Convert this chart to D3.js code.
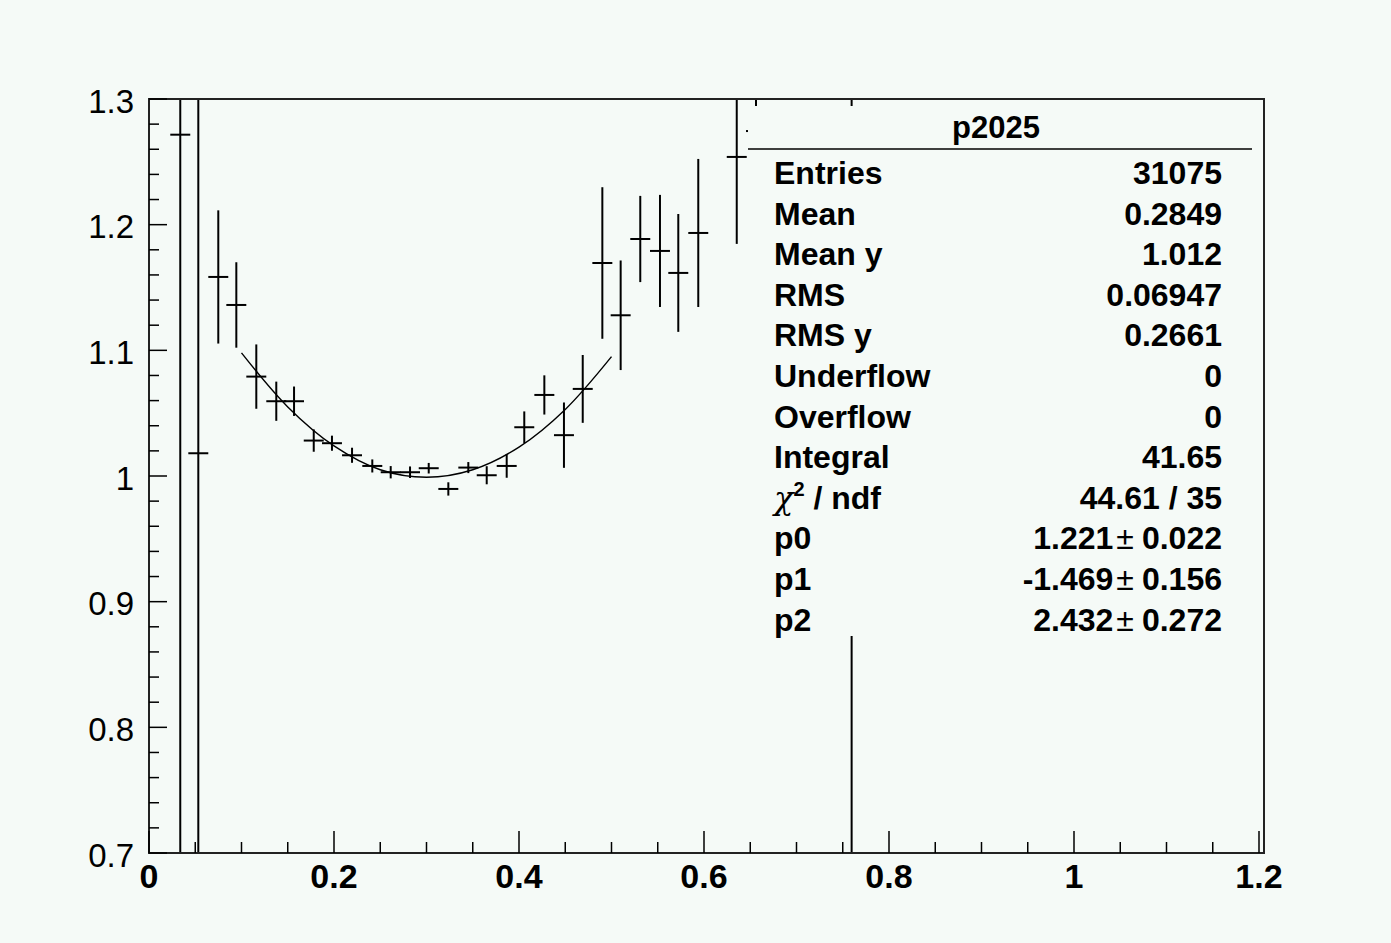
<!DOCTYPE html>
<html>
<head>
<meta charset="utf-8">
<script src="https://cdn.jsdelivr.net/npm/d3@7"></script>
<style>
  html, body { margin: 0; padding: 0; background: #f5faf7; }
  svg { display: block; font-family: "Liberation Sans", Arial, Helvetica, sans-serif; }
</style>
</head>
<body>
<div id="chart"></div>
<script>
// Profile p2025 with a pol2 fit (ROOT-style canvas)

// bin centres, profile means and errors
const binX = [0.0338, 0.0533, 0.0749, 0.0944, 0.1160, 0.1376, 0.1568, 0.1781, 0.1978, 0.2195,
              0.2414, 0.2613, 0.2822, 0.3024, 0.3236, 0.3452, 0.3651, 0.3867, 0.4057, 0.4274,
              0.4486, 0.4689, 0.4901, 0.5099, 0.5311, 0.5524, 0.5722, 0.5938, 0.6354, 0.6562,
              0.7596];
const binY = [1.2716, 1.0181, 1.1584, 1.1361, 1.0791, 1.0595, 1.0595, 1.0282, 1.0261, 1.0165,
              1.0080, 1.0030, 1.0030, 1.0062, 0.9897, 1.0067, 1.0006, 1.0080, 1.0388, 1.0645,
              1.0325, 1.0693, 1.1695, 1.1279, 1.1886, 1.1791, 1.1616, 1.1934, 1.2539, 1.2745,
              0.9500];
const binErr = [0.9000, 0.9000, 0.0530, 0.0340, 0.0256, 0.0156, 0.0117, 0.0089, 0.0060, 0.0060,
                0.0052, 0.0049, 0.0046, 0.0042, 0.0053, 0.0044, 0.0072, 0.0094, 0.0126, 0.0156,
                0.0260, 0.0270, 0.0603, 0.0436, 0.0343, 0.0446, 0.0469, 0.0589, 0.0692, 0.0800,
                0.3500];
const binHalfWidth = 0.0108;

// fit curve (pol2)
const fitX = [0.10, 0.15, 0.20, 0.25, 0.30, 0.35, 0.40, 0.45, 0.50];
const fitY = [1.098, 1.055, 1.024, 1.005, 0.999, 1.005, 1.023, 1.053, 1.095];

// stats box
const statTitle = 'p2025';
const statLabels = ['Entries', 'Mean', 'Mean y', 'RMS', 'RMS y', 'Underflow', 'Overflow',
                    'Integral', 'chi2', 'p0', 'p1', 'p2'];
const statValues = ['31075', '0.2849', '1.012', '0.06947', '0.2661', '0', '0', '41.65',
                    '44.61 / 35', '1.221 ± 0.022', '-1.469 ± 0.156', '2.432 ± 0.272'];

// axis ticks
const xTicks = [0, 0.2, 0.4, 0.6, 0.8, 1, 1.2];
const yTicks = [0.7, 0.8, 0.9, 1.0, 1.1, 1.2, 1.3];

const W = 1391, H = 943;
const frame = { left: 149, top: 99, right: 1264, bottom: 853 };
const bg = '#f5faf7';

const svg = d3.select('#chart').append('svg')
    .attr('width', W).attr('height', H);

svg.append('rect').attr('width', W).attr('height', H).attr('fill', bg);

const x = d3.scaleLinear().domain([0, 1.2]).range([frame.left, 1259]);
const y = d3.scaleLinear().domain([0.7, 1.3]).range([frame.bottom, frame.top]);

svg.append('clipPath').attr('id', 'plotClip')
  .append('rect')
    .attr('x', frame.left).attr('y', frame.top)
    .attr('width', frame.right - frame.left).attr('height', frame.bottom - frame.top);

const plot = svg.append('g').attr('clip-path', 'url(#plotClip)');

const pts = binX.map((bx, i) => ({ x: bx, y: binY[i], e: binErr[i] }));

// error bars
plot.selectAll('.ebar').data(pts).enter().append('line')
    .attr('class', 'ebar')
    .attr('x1', d => x(d.x)).attr('x2', d => x(d.x))
    .attr('y1', d => y(d.y - d.e)).attr('y2', d => y(d.y + d.e))
    .attr('stroke', '#000').attr('stroke-width', 2);

plot.selectAll('.xbar').data(pts).enter().append('line')
    .attr('class', 'xbar')
    .attr('x1', d => x(d.x - binHalfWidth)).attr('x2', d => x(d.x + binHalfWidth))
    .attr('y1', d => y(d.y)).attr('y2', d => y(d.y))
    .attr('stroke', '#000').attr('stroke-width', 2);

// fit
const fitLine = d3.line()
    .x(d => x(d[0])).y(d => y(d[1]))
    .curve(d3.curveCatmullRom);

plot.append('path')
    .datum(fitX.map((fx, i) => [fx, fitY[i]]))
    .attr('d', fitLine)
    .attr('fill', 'none')
    .attr('stroke', '#000')
    .attr('stroke-width', 1.4);

// stats box (opaque, hides the data behind it)
const box = { left: 748, top: 106, right: 1263, bottom: 636 };
svg.append('rect')
    .attr('x', box.left).attr('y', box.top)
    .attr('width', box.right - box.left).attr('height', box.bottom - box.top)
    .attr('fill', bg);

svg.append('text')
    .attr('x', 996).attr('y', 138)
    .attr('text-anchor', 'middle')
    .attr('font-size', 31).attr('font-weight', 'bold')
    .text(statTitle);

svg.append('line')
    .attr('x1', box.left).attr('x2', 1252)
    .attr('y1', 149).attr('y2', 149)
    .attr('stroke', '#000').attr('stroke-width', 1.5);

const rowY = i => 184 + i * 40.6;

statLabels.forEach((lab, i) => {
    const t = svg.append('text')
        .attr('x', 774).attr('y', rowY(i))
        .attr('font-size', 32).attr('font-weight', 'bold');
    if (lab === 'chi2') {
        t.append('tspan').attr('font-weight', 'normal')
            .attr('font-family', '"DejaVu Serif", serif').attr('font-style', 'italic')
            .text('χ');
        t.append('tspan').attr('font-size', 20).attr('dy', -13).text('2');
        t.append('tspan').attr('dy', 13).text(' / ndf');
    } else {
        t.text(lab);
    }
});

statValues.forEach((val, i) => {
    const t = svg.append('text')
        .attr('x', 1222).attr('y', rowY(i))
        .attr('text-anchor', 'end')
        .attr('font-size', 32).attr('font-weight', 'bold');
    const parts = val.split('±');
    if (parts.length === 2) {
        t.append('tspan').text(parts[0].trim());
        t.append('tspan').attr('font-weight', 'normal').attr('dx', 3).text('±');
        t.append('tspan').attr('dx', 8).text(parts[1].trim());
    } else {
        t.text(val);
    }
});

// frame
svg.append('rect')
    .attr('x', frame.left).attr('y', frame.top)
    .attr('width', frame.right - frame.left).attr('height', frame.bottom - frame.top)
    .attr('fill', 'none').attr('stroke', '#222').attr('stroke-width', 2);

// x axis ticks (inside, pointing up)
const xMinor = d3.range(0, 1.2001, 0.05);
svg.selectAll('.xtick').data(xMinor).enter().append('line')
    .attr('x1', d => x(d)).attr('x2', d => x(d))
    .attr('y1', frame.bottom)
    .attr('y2', d => frame.bottom - (Math.abs(d / 0.2 - Math.round(d / 0.2)) < 1e-6 ? 22 : 11))
    .attr('stroke', '#000').attr('stroke-width', 1.5);

svg.selectAll('.xlab').data(xTicks).enter().append('text')
    .attr('x', d => x(d)).attr('y', 888)
    .attr('text-anchor', 'middle')
    .attr('font-size', 34).attr('font-weight', 'bold')
    .text(d => d3.format('~g')(d));

// y axis ticks (inside, pointing right)
const yMinor = d3.range(0.7, 1.3001, 0.02);
svg.selectAll('.ytick').data(yMinor).enter().append('line')
    .attr('x1', frame.left)
    .attr('x2', d => frame.left + (Math.abs(d / 0.1 - Math.round(d / 0.1)) < 1e-6 ? 18 : 10))
    .attr('y1', d => y(d)).attr('y2', d => y(d))
    .attr('stroke', '#000').attr('stroke-width', 1.5);

svg.selectAll('.ylab').data(yTicks).enter().append('text')
    .attr('x', 134).attr('y', d => y(d) + 13.5)
    .attr('text-anchor', 'end')
    .attr('font-size', 33)
    .text(d => d3.format('~g')(d));
</script>
</body>
</html>
